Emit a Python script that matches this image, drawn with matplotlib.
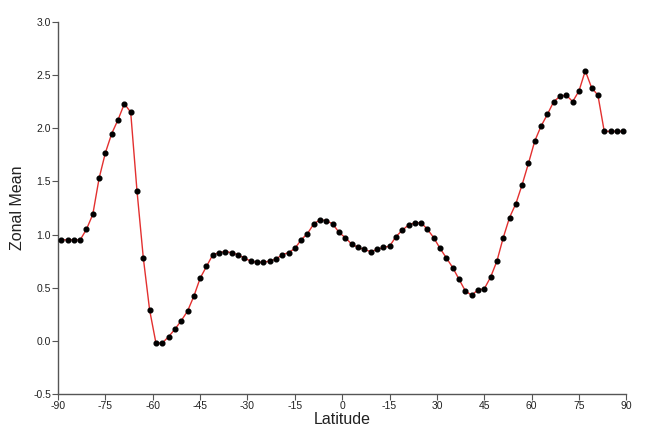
import matplotlib
matplotlib.use("Agg")
import matplotlib.pyplot as plt
import numpy as np

# zonal mean values, every 2 degrees from -89 to 89
lat = np.arange(-89, 90, 2)
zonal_mean = [
    0.95, 0.95, 0.95, 0.95, 1.05, 1.19, 1.53, 1.77, 1.95, 2.08,
    2.23, 2.15, 1.41, 0.78, 0.29, -0.02, -0.02, 0.04, 0.11, 0.19,
    0.28, 0.42, 0.59, 0.70, 0.81, 0.83, 0.84, 0.83, 0.81, 0.78,
    0.75, 0.74, 0.74, 0.75, 0.77, 0.81, 0.83, 0.87, 0.95, 1.01,
    1.10, 1.14, 1.13, 1.10, 1.02, 0.97, 0.91, 0.88, 0.86, 0.84,
    0.86, 0.88, 0.89, 0.98, 1.04, 1.09, 1.11, 1.11, 1.05, 0.97,
    0.87, 0.78, 0.69, 0.58, 0.47, 0.43, 0.48, 0.49, 0.60, 0.75,
    0.97, 1.16, 1.29, 1.47, 1.67, 1.88, 2.02, 2.13, 2.25, 2.30,
    2.31, 2.25, 2.35, 2.54, 2.38, 2.31, 1.97, 1.97, 1.97, 1.97,
]

xticks = [-90, -75, -60, -45, -30, -15, 0, 15, 30, 45, 60, 75, 90]
xticklabels = ["-90", "-75", "-60", "-45", "-30", "-15", "0", "-15", "30", "45", "60", "75", "90"]
yticks = [-0.5, 0.0, 0.5, 1.0, 1.5, 2.0, 2.5, 3.0]

plt.rcParams['font.family'] = ['Liberation Sans', 'DejaVu Sans']

fig = plt.figure(figsize=(6.6, 4.36), dpi=100)
ax = fig.add_axes([0.088, 0.096, 0.861, 0.854])

ax.plot(lat, zonal_mean, color="#e3302f", linewidth=1.0, zorder=2)
ax.plot(lat, zonal_mean, "o", color="black", markersize=3.4, zorder=3)

ax.set_xlim(-90, 90)
ax.set_ylim(-0.5, 3.0)
ax.set_xticks(xticks)
ax.set_xticklabels(xticklabels)
ax.set_yticks(yticks)
ax.set_yticklabels([f"{v:.1f}" for v in yticks])

for s in ["top", "right"]:
    ax.spines[s].set_visible(False)
for s in ["left", "bottom"]:
    ax.spines[s].set_color("#555555")
    ax.spines[s].set_linewidth(1.0)

ax.tick_params(axis="both", colors="#555555", labelcolor="#222222",
               labelsize=7.5, length=4, width=0.8, pad=1)

ax.set_xlabel("Latitude", fontsize=11.5, color="#222222", labelpad=1)
ax.set_ylabel("Zonal Mean", fontsize=11.5, color="#222222", labelpad=6)

fig.savefig("out.png", dpi=100)
